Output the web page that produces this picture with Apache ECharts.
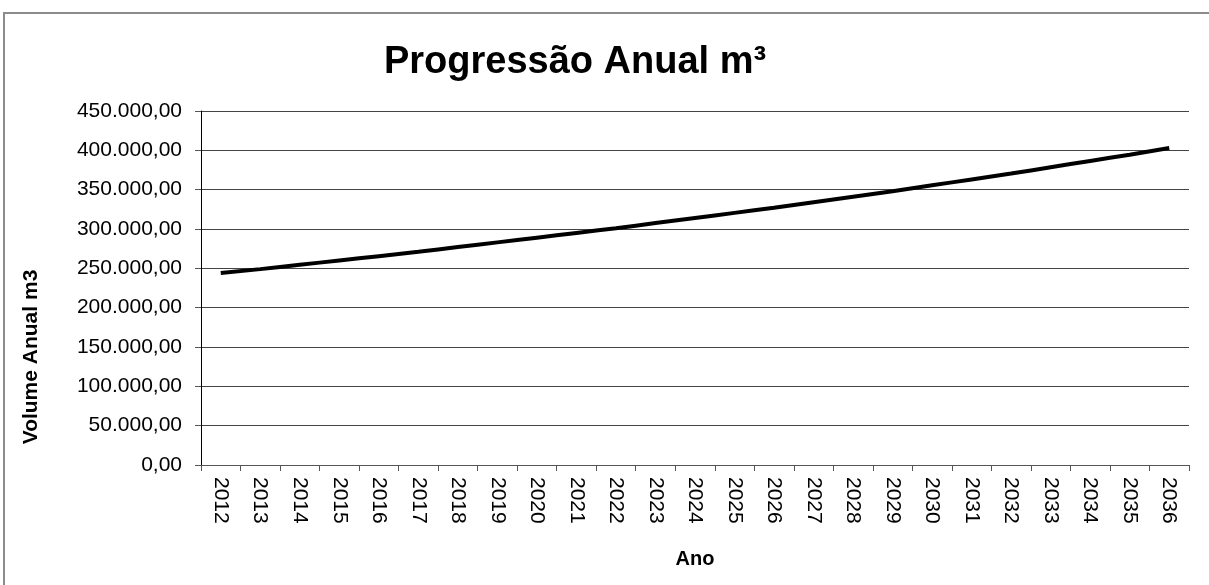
<!DOCTYPE html>
<html>
<head>
<meta charset="utf-8">
<script src="https://cdn.jsdelivr.net/npm/echarts@6/dist/echarts.min.js"></script>
<style>
  html, body { margin: 0; padding: 0; background: #fff; }
  #chart { width: 1209px; height: 585px; }
</style>
</head>
<body>
<div id="chart"></div>
<script>
// anos e volume anual (m3)
const anos = ['2012', '2013', '2014', '2015', '2016', '2017', '2018', '2019', '2020', '2021',
  '2022', '2023', '2024', '2025', '2026', '2027', '2028', '2029', '2030', '2031',
  '2032', '2033', '2034', '2035', '2036']
const volumeAnual = [244000, 249000, 254500, 260000, 265500, 271000, 277000, 283000, 289000, 295000,
  301000, 307500, 314000, 320500, 327000, 334000, 341000, 348000, 355500, 363000,
  370500, 378500, 386500, 394500, 403000]
const yTicks = [0, 50000, 100000, 150000, 200000, 250000, 300000, 350000, 400000, 450000]

const fonte = '"Liberation Sans", Arial, sans-serif'

// formato pt-BR: 450.000,00
function formatBR(v) {
  const parts = v.toFixed(2).split('.')
  parts[0] = parts[0].replace(/\B(?=(\d{3})+(?!\d))/g, '.')
  return parts.join(',')
}

const chart = echarts.init(document.getElementById('chart'))

chart.setOption({
  animation: false,
  textStyle: { fontFamily: fonte, color: '#000' },
  graphic: [
    {
      type: 'rect',
      shape: { x: 4, y: 13, width: 1300, height: 700 },
      style: { fill: 'none', stroke: '#8c8c8c', lineWidth: 2 }
    },
    {
      // título do eixo Y (fica mais abaixo que o centro da área do gráfico)
      type: 'text',
      x: 31,
      y: 357,
      rotation: Math.PI / 2,
      style: {
        text: 'Volume Anual m3',
        font: 'bold 21px ' + fonte,
        fill: '#000',
        align: 'center',
        verticalAlign: 'middle'
      }
    }
  ],
  title: {
    text: 'Progressão Anual m³',
    left: 570,
    top: 39,
    textAlign: 'center',
    textStyle: { fontFamily: fonte, fontSize: 38, fontWeight: 'bold', color: '#000' }
  },
  grid: { left: 201, right: 20, top: 111, bottom: 120 },
  xAxis: {
    type: 'category',
    data: anos,
    boundaryGap: true,
    name: 'Ano',
    nameLocation: 'middle',
    nameGap: 84,
    nameTextStyle: { fontFamily: fonte, fontSize: 20, fontWeight: 'bold', color: '#000' },
    axisLine: { lineStyle: { color: '#555', width: 1 } },
    axisTick: { show: true, length: 6, lineStyle: { color: '#555' } },
    axisLabel: { rotate: -90, margin: 12, fontSize: 21, color: '#000', fontFamily: fonte }
  },
  yAxis: {
    type: 'value',
    min: yTicks[0],
    max: yTicks[yTicks.length - 1],
    interval: yTicks[1] - yTicks[0],
    axisLine: { show: true, lineStyle: { color: '#000', width: 1 } },
    axisTick: { show: true, length: 6, lineStyle: { color: '#555' } },
    axisLabel: { margin: 19, fontSize: 21, color: '#000', fontFamily: fonte, formatter: formatBR },
    splitLine: { lineStyle: { color: '#444', width: 1 } }
  },
  series: [
    {
      type: 'line',
      data: volumeAnual,
      smooth: true,
      showSymbol: false,
      lineStyle: { color: '#000', width: 4 }
    }
  ]
})
</script>
</body>
</html>
